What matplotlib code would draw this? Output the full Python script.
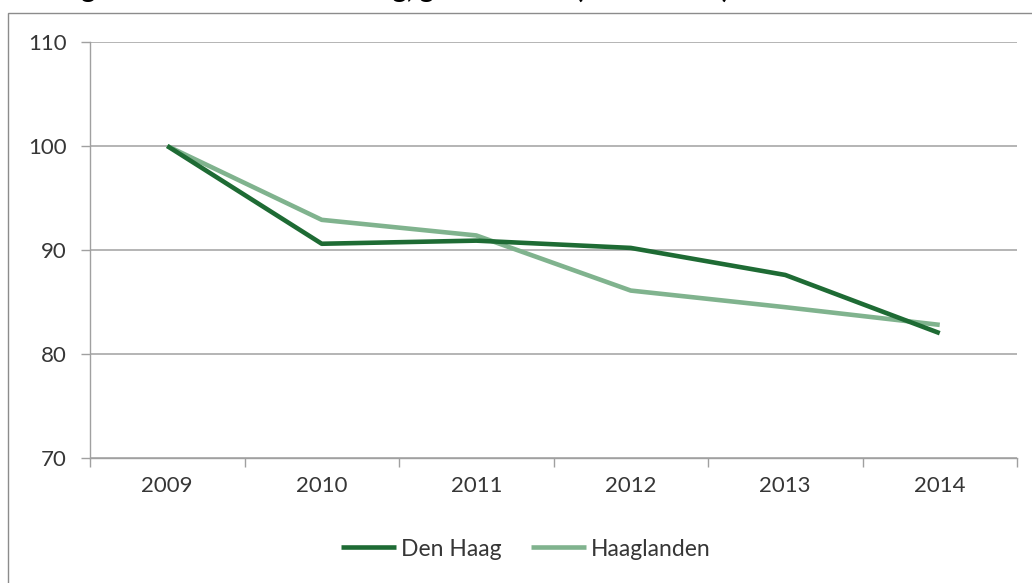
import matplotlib
matplotlib.use("Agg")
import matplotlib.pyplot as plt
from matplotlib.patches import Rectangle

# Data (index, 2009 = 100)
years = ["2009", "2010", "2011", "2012", "2013", "2014"]
den_haag = [100.0, 90.6, 90.9, 90.2, 87.6, 82.0]
haaglanden = [100.0, 92.9, 91.4, 86.1, 84.5, 82.8]
y_ticks = [70, 80, 90, 100, 110]

DARK = "#1E6B34"
LIGHT = "#80B38E"
GRID = "#A0A0A0"
TEXT = "#363636"

plt.rcParams["font.family"] = ["Lato", "DejaVu Sans"]

W, H = 1032, 583
fig = plt.figure(figsize=(W / 100, H / 100), dpi=100)

# outer chart frame (cut off at the right and bottom)
fig.patches.append(Rectangle((8 / W, -0.1), 1.2, 1 - 13 / H + 0.1,
                             transform=fig.transFigure, fill=False,
                             edgecolor="#8C8C8C", linewidth=1.0))

# title, only the lower part is visible (as in the source image)
fig.text(0, 1 + 2 / H, "Woningvoorraad totaal Den Haag, geïndexeerd (2009 = 100)",
         fontsize=19.5, fontweight="bold", color="black", va="baseline", ha="left")

ax = fig.add_axes([90 / W, 1 - 458 / H, (1017 - 90) / W, (458 - 42) / H])

x = list(range(len(years)))
ax.plot(x, den_haag, color=DARK, linewidth=3.3, label="Den Haag",
        solid_capstyle="butt", zorder=3)
ax.plot(x, haaglanden, color=LIGHT, linewidth=3.3, label="Haaglanden",
        solid_capstyle="butt", zorder=2)

ax.set_xlim(-0.5, len(years) - 0.5)
ax.set_ylim(70, 110)

# y axis
ax.set_yticks(y_ticks)
ax.set_yticklabels([str(v) for v in y_ticks])
ax.yaxis.grid(True, color=GRID, linewidth=1.1)
ax.set_axisbelow(True)

# x axis: ticks between categories, labels centred
ax.set_xticks([i - 0.5 for i in range(len(years) + 1)])
ax.set_xticklabels([])
ax.set_xticks(x, minor=True)
ax.set_xticklabels(years, minor=True)
ax.tick_params(axis="x", which="minor", length=0, pad=13, labelsize=16, labelcolor=TEXT)
ax.tick_params(axis="x", which="major", length=6.5, width=1.0, color=GRID, direction="out")
ax.tick_params(axis="y", length=6.5, width=1.0, color=GRID, pad=10.5,
               labelsize=16, labelcolor=TEXT)

for s in ("top", "right"):
    ax.spines[s].set_visible(False)
for s in ("left", "bottom"):
    ax.spines[s].set_color(GRID)
    ax.spines[s].set_linewidth(1.0)

leg = fig.legend(loc="center", bbox_to_anchor=(526 / W, 1 - 549 / H), ncol=2,
                 frameon=False, fontsize=16.5, handlelength=2.4, handletextpad=0.2,
                 columnspacing=1.3)
for t in leg.get_texts():
    t.set_color(TEXT)

fig.savefig("out.png", dpi=100, facecolor="white")
